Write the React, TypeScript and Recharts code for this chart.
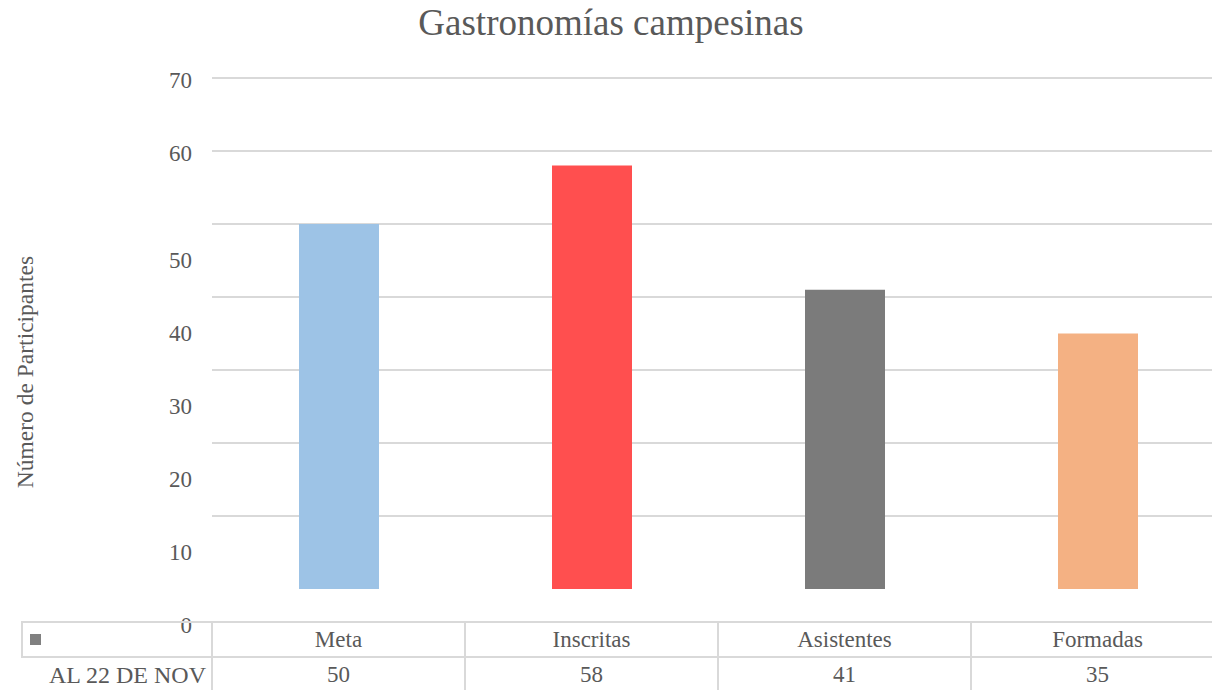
import { BarChart, Bar, Cell, XAxis, YAxis, CartesianGrid } from "recharts";

const categories = ["Meta", "Inscritas", "Asistentes", "Formadas"];
const values = [50, 58, 41, 35];
const barColors = ["#9DC3E6", "#FF4F4F", "#7B7B7B", "#F4B183"];
const yTicks = [0, 10, 20, 30, 40, 50, 60, 70];
const gridValues = [10, 20, 30, 40, 50, 60, 70];
const seriesName = "AL 22 DE NOV";
const title = "Gastronomías campesinas";
const yLabel = "Número de Participantes";

const data = categories.map((name, i) => ({ name, value: values[i] }));

const FONT = '"Liberation Serif", "DejaVu Serif", "Times New Roman", Times, serif';
const TEXT = "#595959";
const LINE = "#D9D9D9";

// layout of the plot, shared with the data table under it
const CHART_W = 1230;
const PLOT_LEFT = 212;
const PLOT_RIGHT = 6;
const COL_W = (CHART_W - PLOT_LEFT - PLOT_RIGHT) / categories.length;

function YTick(props: any) {
  const v = props.payload.value;
  // the source export puts the lower labels half a step low
  const shift = v <= 50 ? 36 : 2;
  return (
    <text
      x={192}
      y={props.y + shift}
      dy="0.35em"
      textAnchor="end"
      fill={TEXT}
      fontSize={23}
      style={{ fontFamily: FONT }}
    >
      {v}
    </text>
  );
}

export default function App() {
  return (
    <div
      style={{
        position: "absolute",
        left: 0,
        top: 0,
        width: 1212,
        height: 690,
        overflow: "hidden",
        background: "#fff",
        fontFamily: FONT,
        color: TEXT
      }}
    >
      <div
        style={{
          position: "absolute",
          top: 4,
          left: 0,
          width: 1222,
          textAlign: "center",
          fontSize: 37,
          lineHeight: "37px"
        }}
      >
        {title}
      </div>
      <div
        style={{
          position: "absolute",
          left: 25,
          top: 372,
          transform: "translate(-50%, -50%) rotate(-90deg)",
          whiteSpace: "nowrap",
          fontSize: 23.5
        }}
      >
        {yLabel}
      </div>

      <div style={{ position: "absolute", left: 0, top: 0 }}>
        <BarChart
          width={CHART_W}
          height={690}
          data={data}
          margin={{ top: 78, right: PLOT_RIGHT, bottom: 101, left: 0 }}
        >
          <CartesianGrid
            vertical={false}
            horizontalValues={gridValues}
            stroke={LINE}
            strokeWidth={2}
          />
          <XAxis dataKey="name" hide />
          <YAxis
            width={PLOT_LEFT}
            domain={[0, 70]}
            ticks={yTicks}
            interval={0}
            axisLine={false}
            tickLine={false}
            tick={<YTick />}
          />
          <Bar dataKey="value" barSize={80} isAnimationActive={false}>
            {data.map((d, i) => (
              <Cell key={d.name} fill={barColors[i]} />
            ))}
          </Bar>
        </BarChart>
      </div>

      {/* data table */}
      <div style={{ position: "absolute", left: 21, top: 621, width: 1300, height: 2, background: LINE }} />
      <div style={{ position: "absolute", left: 21, top: 656, width: 1300, height: 2, background: LINE }} />
      <div style={{ position: "absolute", left: 21, top: 621, width: 2, height: 37, background: LINE }} />
      <div style={{ position: "absolute", left: 30, top: 634, width: 11, height: 11, background: "#808080" }} />
      {categories.map((c, i) => (
        <div key={c}>
          <div
            style={{
              position: "absolute",
              left: PLOT_LEFT + COL_W * i - 1,
              top: 621,
              width: 2,
              height: 80,
              background: LINE
            }}
          />
          <div
            style={{
              position: "absolute",
              left: PLOT_LEFT + COL_W * i,
              top: 627,
              width: COL_W,
              textAlign: "center",
              fontSize: 23,
              lineHeight: "26px"
            }}
          >
            {c}
          </div>
          <div
            style={{
              position: "absolute",
              left: PLOT_LEFT + COL_W * i,
              top: 662,
              width: COL_W,
              textAlign: "center",
              fontSize: 23,
              lineHeight: "26px"
            }}
          >
            {values[i]}
          </div>
        </div>
      ))}
      <div
        style={{
          position: "absolute",
          right: 1212 - 206,
          top: 662,
          textAlign: "right",
          whiteSpace: "nowrap",
          fontSize: 24,
          lineHeight: "26px"
        }}
      >
        {seriesName}
      </div>
    </div>
  );
}
